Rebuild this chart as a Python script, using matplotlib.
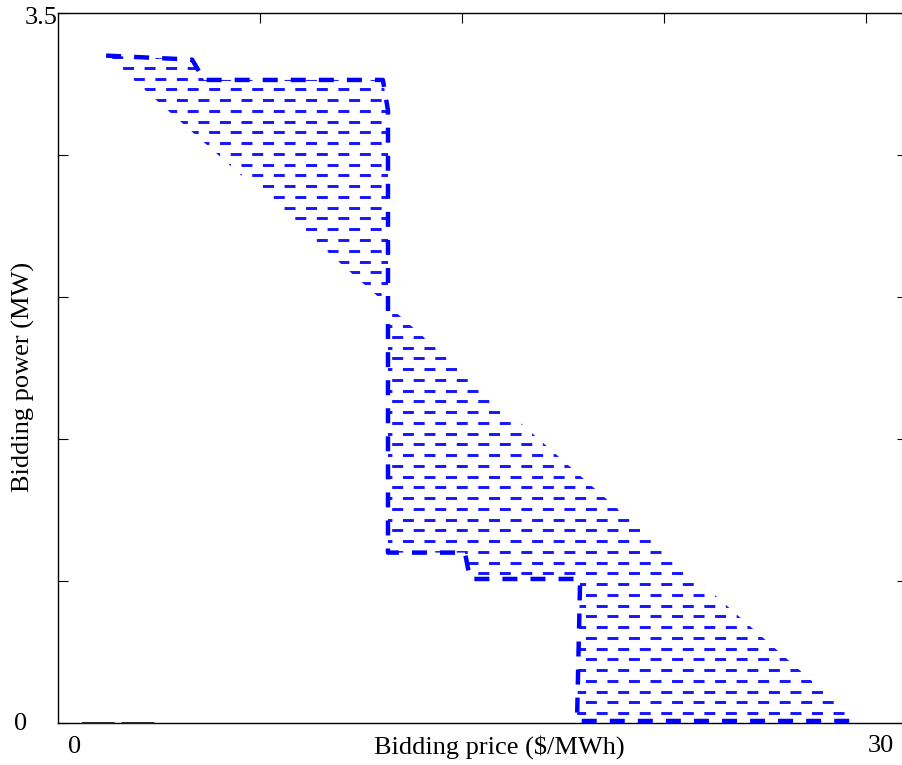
import numpy as np
import matplotlib
matplotlib.use("Agg")
import matplotlib.pyplot as plt
from matplotlib.patches import Polygon

plt.rcParams['font.family'] = ['Liberation Serif', 'DejaVu Serif']
plt.rcParams['lines.scale_dashes'] = False

# ---- data ----
# upper (step) bidding curve: price ($/MWh), power (MW)
upper_price = [1.70, 4.74, 5.16, 11.48, 11.66, 11.66, 14.38, 14.56, 18.45, 18.34, 28.23]
upper_power = [3.29, 3.27, 3.17, 3.17, 3.02, 0.84, 0.84, 0.71, 0.71, 0.01, 0.01]
# lower (linear) bidding curve
lower_price = [1.70, 28.23]
lower_power = [3.29, 0.01]
# zero-power segment at low prices
zero_price = [0.85, 3.43]
zero_power = [0.0, 0.0]

x_min, x_max = 0, 30
y_min, y_max = 0, 3.5
x_ticklabels = ["0", "30"]
y_ticklabels = ["0", "3.5"]
xlabel = "Bidding price ($/MWh)"
ylabel = "Bidding power (MW)"

# ---- figure ----
W, H = 902, 765
fig = plt.figure(figsize=(W / 100, H / 100), dpi=100)
left, right, top, bottom = 58, 907, 13, 723
ax = fig.add_axes([left / W, (H - bottom) / H, (right - left) / W, (bottom - top) / H])
ax.set_xlim(x_min, x_max)
ax.set_ylim(y_min, y_max)

# region between the two curves
poly_xy = list(zip(upper_price, upper_power)) + list(zip(lower_price[::-1], lower_power[::-1]))
poly = Polygon(poly_xy, closed=True, facecolor='none', edgecolor='none')
ax.add_patch(poly)

# dashed horizontal hatching clipped to the region (brick pattern)
row_step = 0.053
rows = np.arange(0.049, y_max, row_step)
on, off = 7.9, 7.6
for i, yr in enumerate(rows):
    offset = 0 if i % 2 == 0 else (on + off) / 2
    ln, = ax.plot([x_min, x_max], [yr, yr], color='#1414ff', lw=2.1,
                  linestyle=(offset, (on, off)), dash_capstyle='butt', zorder=2)
    ln.set_clip_path(poly)

# upper step curve
ax.plot(upper_price, upper_power, color='#0000ff', lw=3.2,
        linestyle=(0, (10.8, 9.4)), zorder=3)

# zero segment
ax.plot(zero_price, zero_power, color='#222222', lw=1.4,
        linestyle=(0, (23.5, 5)), zorder=4, clip_on=False)

# ticks
x_step = (x_max - x_min) * 202 / (right - left)
ax.set_xticks(x_step * np.arange(1, 5))
ax.set_yticks(np.arange(0, 3.51, 0.7))
ax.tick_params(direction='in', length=7.2, width=0.8, top=True, right=True,
               bottom=False, labelbottom=False, labelleft=False)
for sp in ax.spines.values():
    sp.set_linewidth(1.0)

# tick labels and axis labels as text
fs = 19
fig.text(75 / W, 1 - 747 / H, x_ticklabels[0], ha='center', va='center', fontsize=fs)
fig.text(881 / W, 1 - 746 / H, x_ticklabels[1], ha='center', va='center', fontsize=fs)
fig.text(21 / W, 1 - 724 / H, y_ticklabels[0], ha='center', va='center', fontsize=fs)
fig.text(58 / W, 1 - 18 / H, y_ticklabels[1], ha='right', va='center', fontsize=fs)
fig.text(499 / W, 1 - 747 / H, xlabel, ha='center', va='center', fontsize=fs)
fig.text(23 / W, 1 - 377 / H, ylabel, ha='center', va='center', rotation=90, fontsize=fs)

fig.savefig("out.png", dpi=100)
